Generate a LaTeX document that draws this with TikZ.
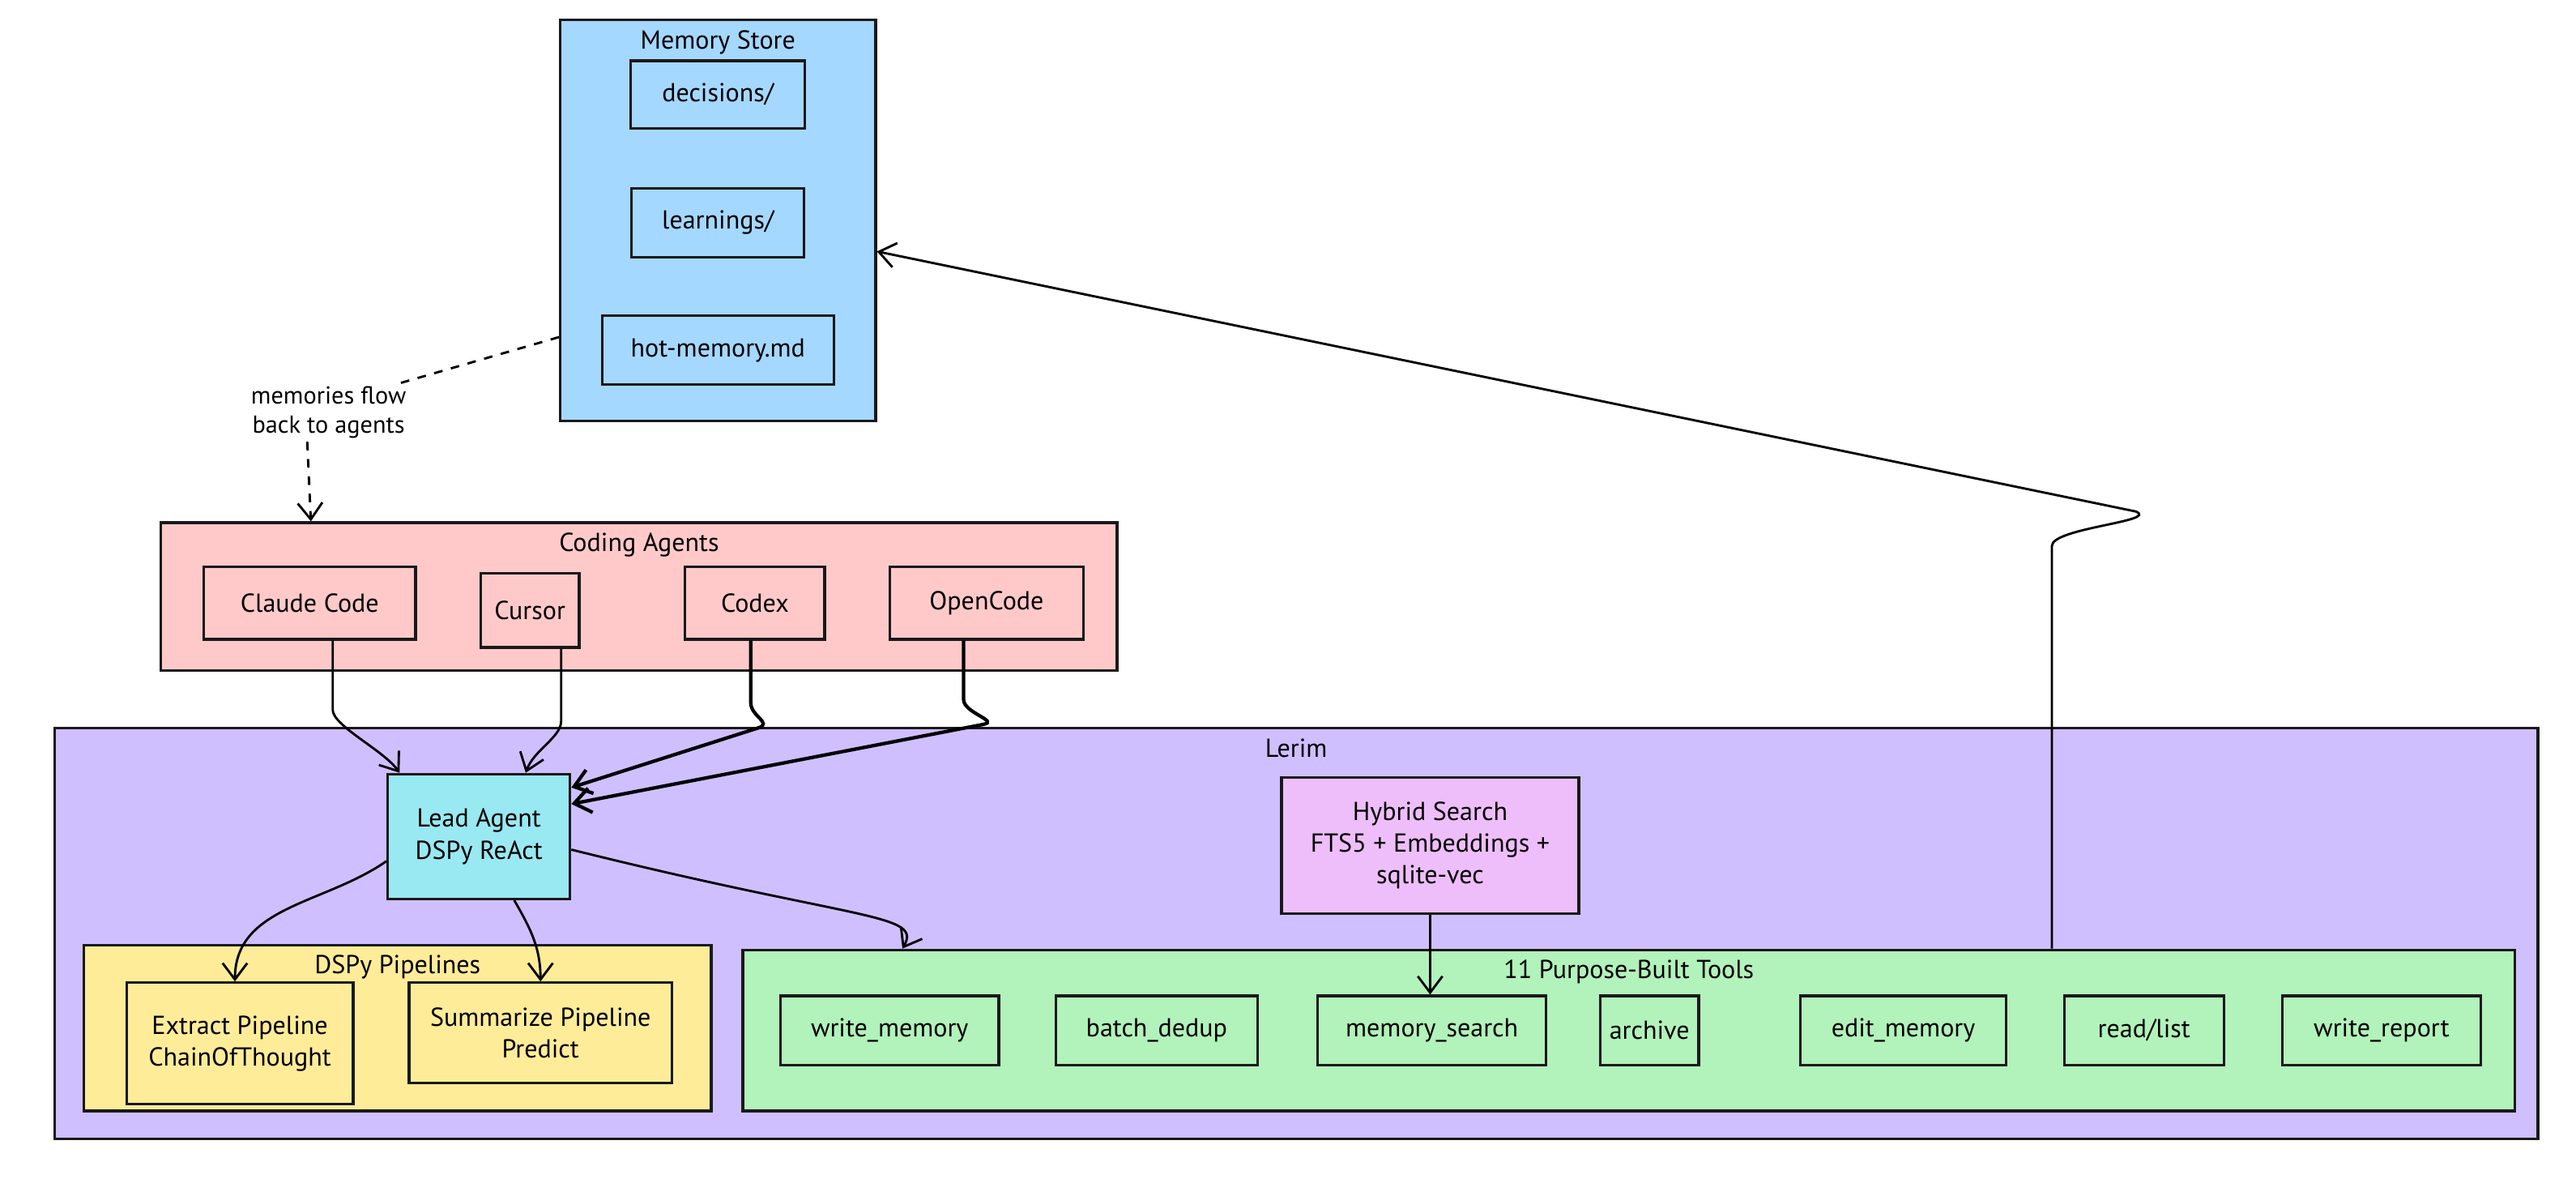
\documentclass[tikz,border=0pt]{standalone}
\usepackage{fontspec}
\setmainfont{PT Sans}
\usetikzlibrary{arrows.meta, positioning}
\usepackage{xcolor}
\definecolor{storeblue}{HTML}{A5D8FF}
\definecolor{agentred}{HTML}{FFC9C9}
\definecolor{lerimviolet}{HTML}{D0BFFF}
\definecolor{leadcyan}{HTML}{99E9F2}
\definecolor{searchpink}{HTML}{EEBEFA}
\definecolor{pipeyellow}{HTML}{FFEC99}
\definecolor{toolgreen}{HTML}{B2F2BB}

\begin{document}
\begin{tikzpicture}[
    x=0.02cm, y=0.02cm,
    group/.style={draw=black!90, line width=0.9pt, inner sep=0pt},
    box/.style={draw=black!90, line width=0.9pt, align=center, inner sep=2pt, font=\fontsize{9}{11}\selectfont},
    title/.style={font=\fontsize{9}{11}\selectfont, inner sep=1pt},
    tool/.style={box, fill=toolgreen, inner xsep=0.5pt, minimum height=0.84cm},
    note/.style={font=\fontsize{8.5}{10}\selectfont, align=center, inner sep=1pt},
    arr/.style={-{Straight Barb[length=2mm, width=3mm]}, line width=0.8pt},
    heavy/.style={arr, line width=1.2pt},
    flowline/.style={line width=0.8pt, dash pattern=on 3pt off 3pt}
]
    \useasboundingbox (0,0) rectangle (1568,-717);

    \node[group, fill=storeblue, minimum width=3.84cm, minimum height=4.88cm] (store) at (437,-134) {};
    \node[title, below=1mm of store.north] {Memory Store};
    \node[box, fill=storeblue, minimum width=2.12cm, minimum height=0.82cm] (decisions) at (437,-57.5) {decisions/};
    \node[box, fill=storeblue, minimum width=2.1cm, minimum height=0.84cm, below=0.7cm of decisions] (learnings) {learnings/};
    \node[box, fill=storeblue, minimum width=2.82cm, minimum height=0.84cm, below=0.68cm of learnings] (hot) {hot-memory.md};

    \node[note] (flownote) at (200,-251) {memories flow\\back to agents};

    \node[group, fill=agentred, minimum width=11.64cm, minimum height=1.8cm] (agents) at (389,-363) {};
    \node[title, below=1mm of agents.north] {Coding Agents};
    \node[box, fill=agentred, minimum width=2.58cm, minimum height=0.88cm] (claude) at (188.5,-367) {Claude Code};
    \node[box, fill=agentred, minimum width=1.2cm, minimum height=0.9cm, right=0.76cm of claude, yshift=-0.09cm] (cursor) {Cursor};
    \node[box, fill=agentred, minimum width=1.7cm, minimum height=0.88cm] (codex) at (459.5,-367) {Codex};
    \node[box, fill=agentred, minimum width=2.36cm, minimum height=0.88cm, right=0.76cm of codex] (opencode) {OpenCode};

    \node[group, fill=lerimviolet, minimum width=30.24cm, minimum height=5cm] (lerim) at (789,-568) {};
    \node[title, below=1mm of lerim.north] {Lerim};
    \node[box, fill=leadcyan, minimum width=2.22cm, minimum height=1.52cm] (lead) at (291.5,-509) {Lead Agent\\DSPy ReAct};
    \node[box, fill=searchpink, minimum width=3.62cm, minimum height=1.66cm] (hybrid) at (870.5,-514.5) {Hybrid Search\\FTS5 + Embeddings +\\sqlite-vec};

    \node[group, fill=pipeyellow, minimum width=7.64cm, minimum height=2.02cm] (pipelines) at (242,-625.5) {};
    \node[title, below=1mm of pipelines.north] {DSPy Pipelines};
    \node[box, fill=pipeyellow, minimum width=2.76cm, minimum height=1.48cm] (extract) at (146,-635) {Extract Pipeline\\ChainOfThought};
    \node[box, fill=pipeyellow, minimum width=3.2cm, minimum height=1.22cm] (summarize) at (329,-628.5) {Summarize Pipeline\\Predict};

    \node[group, fill=toolgreen, minimum width=21.58cm, minimum height=1.96cm] (tools) at (991.5,-627) {};
    \node[title, below=1mm of tools.north] {11 Purpose-Built Tools};
    \node[tool, minimum width=2.66cm] (wmemory) at (541.5,-627) {write\_memory};
    \node[tool, minimum width=2.46cm, right=0.66cm of wmemory] (dedup) {batch\_dedup};
    \node[tool, minimum width=2.78cm, right=0.7cm of dedup] (msearch) {memory\_search};
    \node[tool, minimum width=1.2cm] (archive) at (1004,-627) {archive};
    \node[tool, minimum width=2.5cm] (emem) at (1158.5,-627) {edit\_memory};
    \node[tool, minimum width=1.94cm, right=0.68cm of emem] (readlist) {read/list};
    \node[tool, minimum width=2.42cm, right=0.68cm of readlist] (wreport) {write\_report};

    \draw[flowline] ([yshift=0.16cm]store.west |- hot) -- ([xshift=-0.12cm]flownote.north east);
    \draw[flowline, arr] ([xshift=-0.26cm]flownote.south) -- ([xshift=1.84cm]agents.north west);

    \draw[arr] ([xshift=0.28cm]claude.south) -- ++(0,-42) .. controls +(0,-10) and +(-10,14) .. ([xshift=0.16cm]lead.north west);
    \draw[arr] ([xshift=0.38cm]cursor.south) -- ++(0,-44) .. controls +(0,-10) and +(5,14) .. ([xshift=0.57cm]lead.north);
    \draw[heavy] ([xshift=-0.05cm]codex.south) -- ++(0,-38) .. controls +(0,-8) and +(8,3) .. ++(5,-15) -- ([yshift=-0.18cm]lead.north east);
    \draw[heavy] ([xshift=-0.28cm]opencode.south) -- ++(0,-36) .. controls +(0,-8) and +(10,2) .. ++(12,-15) -- ([yshift=-0.38cm]lead.north east);

    \draw[arr] ([yshift=-0.3cm]lead.west) to[out=-145, in=90] ([xshift=-0.06cm]extract.north);
    \draw[arr] ([xshift=0.43cm]lead.south) to[out=-60, in=90] (summarize.north);
    \draw[arr] ([yshift=-0.16cm]lead.east) .. controls +(-14:3.6cm) and +(60:0.5cm) .. ([xshift=1.96cm]tools.north west);
    \draw[arr] (hybrid.south) -- (hybrid.south |- msearch.north);

    \draw[arr] ([xshift=5.15cm]tools.north) -- ++(0,245) .. controls +(0,11) and +(15,-6) .. ++(51,21) -- ([yshift=-0.38cm]store.east);
\end{tikzpicture}
\end{document}
